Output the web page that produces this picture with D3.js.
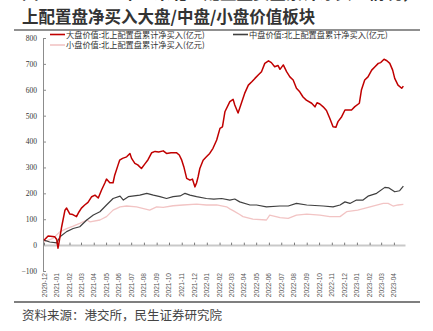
<!DOCTYPE html>
<html>
<head>
<meta charset="utf-8">
<script src="https://cdn.jsdelivr.net/npm/d3@7/dist/d3.min.js"></script>
<style>
  html, body { margin: 0; padding: 0; background: #fff; }
  svg { display: block; }
</style>
</head>
<body>
<svg id="chart" width="433" height="331"></svg>
<script>
// Cumulative net buying by northbound allocation money (亿元), three value segments
const largeCap = [
  ["2020-12-01", 19], ["2020-12-11", 35], ["2020-12-27", 32], ["2021-01-01", 22],
  ["2021-01-04", -12], ["2021-01-06", 5], ["2021-01-13", 71], ["2021-01-21", 135],
  ["2021-01-25", 143], ["2021-02-02", 120], ["2021-02-09", 118], ["2021-02-18", 110],
  ["2021-02-24", 128], ["2021-03-02", 143], ["2021-03-10", 155], ["2021-03-18", 165],
  ["2021-03-27", 187], ["2021-04-04", 193], ["2021-04-12", 182], ["2021-04-20", 213],
  ["2021-04-28", 240], ["2021-05-02", 255], ["2021-05-10", 241], ["2021-05-18", 241],
  ["2021-05-22", 270], ["2021-05-30", 309], ["2021-06-03", 328], ["2021-06-10", 335],
  ["2021-06-20", 341], ["2021-06-28", 354], ["2021-07-02", 335], ["2021-07-10", 316],
  ["2021-07-17", 310], ["2021-07-26", 296], ["2021-08-03", 313], ["2021-08-11", 330],
  ["2021-08-20", 357], ["2021-08-28", 362], ["2021-09-06", 360], ["2021-09-17", 364],
  ["2021-09-25", 354], ["2021-10-06", 357], ["2021-10-19", 357], ["2021-10-26", 348],
  ["2021-11-01", 328], ["2021-11-06", 303], ["2021-11-13", 258], ["2021-11-21", 251],
  ["2021-11-27", 255], ["2021-12-03", 225], ["2021-12-07", 240], ["2021-12-11", 265],
  ["2021-12-15", 296], ["2021-12-23", 328], ["2021-12-31", 341], ["2022-01-08", 354],
  ["2022-01-16", 374], ["2022-01-25", 406], ["2022-02-02", 451], ["2022-02-08", 457],
  ["2022-02-14", 515], ["2022-02-26", 554], ["2022-03-06", 563], ["2022-03-10", 541],
  ["2022-03-18", 510], ["2022-03-26", 548], ["2022-04-03", 586], ["2022-04-12", 618],
  ["2022-04-21", 632], ["2022-04-28", 644], ["2022-05-06", 657], ["2022-05-14", 670],
  ["2022-05-22", 702], ["2022-05-31", 712], ["2022-06-07", 705], ["2022-06-15", 689],
  ["2022-06-23", 694], ["2022-06-28", 679], ["2022-07-06", 696], ["2022-07-14", 670],
  ["2022-07-22", 650], ["2022-07-30", 638], ["2022-08-07", 606], ["2022-08-15", 592],
  ["2022-08-23", 572], ["2022-08-31", 560], ["2022-09-13", 548], ["2022-09-21", 534],
  ["2022-09-26", 550], ["2022-10-03", 545], ["2022-10-11", 534], ["2022-10-19", 520],
  ["2022-10-27", 490], ["2022-11-04", 457], ["2022-11-11", 455], ["2022-11-16", 477],
  ["2022-11-25", 496], ["2022-12-03", 522], ["2022-12-19", 522], ["2022-12-27", 535],
  ["2023-01-07", 548], ["2023-01-12", 599], ["2023-01-20", 638], ["2023-01-28", 650],
  ["2023-02-06", 676], ["2023-02-14", 689], ["2023-02-22", 702], ["2023-02-28", 705],
  ["2023-03-08", 718], ["2023-03-15", 712], ["2023-03-22", 702], ["2023-03-29", 676],
  ["2023-04-03", 644], ["2023-04-11", 618], ["2023-04-20", 606], ["2023-04-24", 614]
];

const midCap = [
  ["2020-12-01", 19], ["2020-12-15", 12], ["2021-01-01", 9], ["2021-01-09", 32],
  ["2021-01-25", 52], ["2021-02-10", 64], ["2021-02-26", 71], ["2021-03-15", 97],
  ["2021-03-31", 116], ["2021-04-16", 129], ["2021-05-02", 155], ["2021-05-18", 180],
  ["2021-06-04", 189], ["2021-06-12", 174], ["2021-06-24", 187], ["2021-07-08", 190],
  ["2021-07-22", 193], ["2021-08-08", 200], ["2021-08-24", 193], ["2021-09-09", 187],
  ["2021-09-25", 180], ["2021-10-11", 187], ["2021-10-28", 190], ["2021-11-09", 200],
  ["2021-11-21", 193], ["2021-12-07", 187], ["2021-12-31", 180], ["2022-01-18", 178],
  ["2022-02-06", 180], ["2022-02-26", 174], ["2022-03-10", 178], ["2022-03-22", 167],
  ["2022-04-16", 155], ["2022-05-02", 155], ["2022-05-26", 148], ["2022-06-28", 151],
  ["2022-07-18", 151], ["2022-08-07", 161], ["2022-09-01", 155], ["2022-09-21", 153],
  ["2022-10-11", 151], ["2022-11-04", 148], ["2022-11-21", 155], ["2022-12-03", 167],
  ["2022-12-15", 161], ["2022-12-31", 174], ["2023-01-16", 174], ["2023-01-28", 189],
  ["2023-02-18", 200], ["2023-03-10", 223], ["2023-03-20", 221], ["2023-04-03", 206],
  ["2023-04-15", 210], ["2023-04-24", 228]
];

const smallCap = [
  ["2020-12-01", 13], ["2020-12-23", 26], ["2021-01-09", 52], ["2021-01-25", 64],
  ["2021-02-10", 73], ["2021-02-26", 84], ["2021-03-15", 97], ["2021-03-23", 90],
  ["2021-04-16", 97], ["2021-05-02", 110], ["2021-05-18", 135], ["2021-06-04", 148],
  ["2021-06-20", 151], ["2021-07-14", 148], ["2021-08-15", 135], ["2021-09-01", 148],
  ["2021-09-17", 146], ["2021-10-11", 152], ["2021-11-04", 155], ["2021-12-07", 158],
  ["2021-12-31", 155], ["2022-01-25", 155], ["2022-02-18", 148], ["2022-02-26", 140],
  ["2022-03-06", 133], ["2022-03-22", 118], ["2022-03-30", 110], ["2022-04-23", 100],
  ["2022-05-26", 97], ["2022-06-03", 116], ["2022-06-28", 106], ["2022-07-18", 103],
  ["2022-08-07", 116], ["2022-09-01", 120], ["2022-10-03", 116], ["2022-10-27", 110],
  ["2022-11-21", 110], ["2022-12-07", 129], ["2023-01-03", 135], ["2023-02-02", 148],
  ["2023-03-06", 161], ["2023-03-18", 161], ["2023-03-30", 151], ["2023-04-11", 155],
  ["2023-04-24", 157]
];

const seriesNames = [
  "大盘价值:北上配置盘累计净买入(亿元)",
  "中盘价值:北上配置盘累计净买入(亿元)",
  "小盘价值:北上配置盘累计净买入(亿元)"
];
const seriesColors = ["#c00000", "#404040", "#f2c4c4"];

const yTicks = [-100, 0, 100, 200, 300, 400, 500, 600, 700, 800];
const monthTicks = d3.timeMonths(new Date(2020, 11, 1), new Date(2023, 4, 1));

const titleCut = "图 18：2021 年以来北上配置盘资金累计净买入情况，2023 年以来北";
const titleMain = "上配置盘净买入大盘/中盘/小盘价值板块";
const sourceText = "资料来源：港交所，民生证券研究院";

const parse = d3.timeParse("%Y-%m-%d");
const svg = d3.select("#chart");
const cjk = "'Noto Sans CJK SC', 'Noto Sans', sans-serif";

// Heading: the line above runs off the top edge, only its foot stays visible
svg.append("text").attr("x", 22).attr("y", -1.5)
  .attr("font-family", cjk).attr("font-size", 16.5).attr("font-weight", "bold")
  .attr("fill", "#333").text(titleCut);
svg.append("text").attr("x", 22).attr("y", 23)
  .attr("font-family", cjk).attr("font-size", 16.5).attr("font-weight", "bold")
  .attr("fill", "#333").text(titleMain);
svg.append("line").attr("x1", 14).attr("x2", 420).attr("y1", 30).attr("y2", 30)
  .attr("stroke", "#6b6b6b").attr("stroke-width", 1.6);

// Scales
const x = d3.scaleTime()
  .domain([new Date(2020, 11, 1), new Date(2023, 3, 28)])
  .range([44, 405]);
const y = d3.scaleLinear().domain([-100, 800]).range([271, 38]);

// Y axis (ticks on the inner side)
const yAxis = svg.append("g").attr("transform", "translate(43,0)")
  .call(d3.axisRight(y).tickValues(yTicks).tickSize(3).tickFormat(d3.format("d")));
yAxis.select(".domain").attr("stroke", "#8c8c8c");
yAxis.selectAll(".tick line").attr("stroke", "#8c8c8c");
yAxis.selectAll(".tick text")
  .attr("x", -6).attr("text-anchor", "end")
  .attr("font-family", "'Liberation Serif', 'DejaVu Serif', serif")
  .attr("font-size", 7.5).attr("fill", "#333");

// Zero line with month ticks
const zeroAxis = svg.append("g").attr("transform", `translate(0,${y(0)})`)
  .call(d3.axisTop(x).tickValues(monthTicks).tickSize(2.5).tickSizeOuter(0).tickFormat(""));
zeroAxis.select(".domain").attr("stroke", "#c9c9c9").attr("stroke-width", 2);
zeroAxis.selectAll(".tick line").attr("stroke", "#7a7a7a");

// Month labels along the bottom, rotated
const fmt = d3.timeFormat("%Y-%m");
svg.append("g").selectAll("text").data(monthTicks).join("text")
  .attr("transform", d => `translate(${x(d) + 2.5},${y(-100) + 2}) rotate(-90)`)
  .attr("text-anchor", "end")
  .attr("font-family", "'Liberation Sans', 'DejaVu Sans', sans-serif")
  .attr("font-size", 6.6).attr("fill", "#555")
  .text(d => fmt(d));

// Lines
const line = d3.line().x(d => x(parse(d[0]))).y(d => y(d[1]));
const allSeries = [largeCap, midCap, smallCap];
const widths = [1.5, 1.2, 1.3];
[2, 1, 0].forEach(i => {
  svg.append("path").datum(allSeries[i])
    .attr("fill", "none").attr("stroke", seriesColors[i])
    .attr("stroke-width", widths[i]).attr("stroke-linejoin", "round")
    .attr("d", line);
});

// Legend
const legendPos = [[50, 34.5], [233, 34.5], [50, 45]];
legendPos.forEach((p, i) => {
  svg.append("line").attr("x1", p[0]).attr("x2", p[0] + 15)
    .attr("y1", p[1]).attr("y2", p[1])
    .attr("stroke", seriesColors[i]).attr("stroke-width", 1.6);
  svg.append("text").attr("x", p[0] + 16).attr("y", p[1] + 3)
    .attr("font-family", cjk).attr("font-size", 8.2).attr("fill", "#333")
    .text(seriesNames[i]);
});

// Footer
svg.append("line").attr("x1", 14).attr("x2", 420).attr("y1", 302).attr("y2", 302)
  .attr("stroke", "#555").attr("stroke-width", 1.6);
svg.append("text").attr("x", 22).attr("y", 320)
  .attr("font-family", cjk).attr("font-size", 12.5).attr("fill", "#444")
  .text(sourceText);
</script>
</body>
</html>
